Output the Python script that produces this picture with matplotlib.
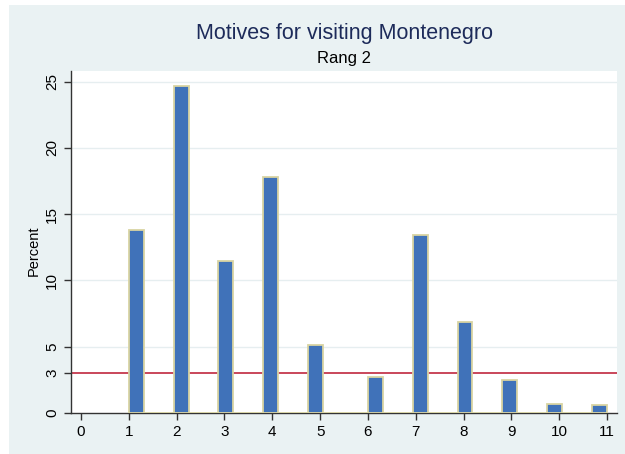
import numpy as np
import matplotlib
matplotlib.use('Agg')
import matplotlib.pyplot as plt
from matplotlib.patches import Rectangle

plt.rcParams['font.family'] = ['Liberation Sans', 'DejaVu Sans']

# motive code (1..11) and percent of respondents, rank 2
motives = [1, 2, 3, 4, 5, 6, 7, 8, 9, 10, 11]
percent = [13.8, 24.7, 11.5, 17.8, 5.1, 2.7, 13.4, 6.9, 2.5, 0.7, 0.6]
ref_level = 3
x_ticks = [0, 1, 2, 3, 4, 5, 6, 7, 8, 9, 10, 11]
y_ticks = [0, 3, 5, 10, 15, 20, 25]

bg = '#eaf2f3'
fig = plt.figure(figsize=(6.25, 4.54), dpi=100, facecolor='white')
fig.patches.append(Rectangle((9 / 625, 0), 1, 1 - 5 / 454, transform=fig.transFigure,
                             facecolor=bg, edgecolor='none', zorder=-10))

ax = fig.add_axes([71 / 625, 41 / 454, 546 / 625, 342 / 454])
ax.set_facecolor('white')

# stata-like histogram: 32 bins over [1, 11]
bins = np.linspace(min(motives), max(motives), 33)
ax.hist(motives, bins=bins, weights=percent, facecolor='#4072b9',
        edgecolor='#d9d4a2', linewidth=1.3, zorder=3)

ax.axhline(ref_level, color='#c0283e', linewidth=1.2, zorder=2)
for y in [5, 10, 15, 20, 25]:
    ax.axhline(y, color='#e6eef0', linewidth=1.0, zorder=1)

ax.set_xlim(-0.21, 11.21)
ax.set_ylim(0, 25.8)
ax.set_xticks(x_ticks)
ax.set_yticks(y_ticks)
ax.set_yticklabels([str(v) for v in y_ticks], rotation=90, va='center')
ax.tick_params(axis='both', labelsize=11, color='#333333', length=5, width=1)
for s in ['top', 'right']:
    ax.spines[s].set_visible(False)
for s in ['left', 'bottom']:
    ax.spines[s].set_color('#333333')
    ax.spines[s].set_linewidth(1)

ax.set_ylabel('Percent', fontsize=10.5)
ax.yaxis.set_label_coords(-0.055, 0.475)

fig.text(344 / 625, 1 - 34 / 454, 'Motives for visiting Montenegro', ha='center', va='center',
         fontsize=15.5, color='#1d2b5a')
fig.text(344 / 625, 1 - 59 / 454, 'Rang 2', ha='center', va='center',
         fontsize=12, color='black')

fig.savefig('out.png', dpi=100, facecolor=fig.get_facecolor())
